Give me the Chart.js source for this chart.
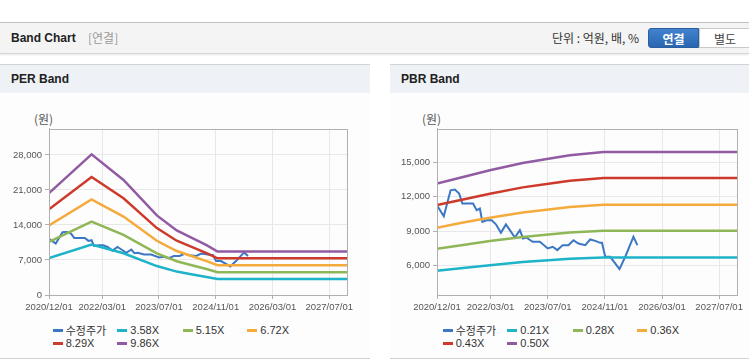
<!DOCTYPE html>
<html>
<head>
<meta charset="utf-8">
<script src="https://cdn.jsdelivr.net/npm/chart.js@4.4.1/dist/chart.umd.min.js"></script>
<style>
  body { margin: 0; width: 749px; height: 364px; position: relative; overflow: hidden; background: #fff;
         font-family: "Liberation Sans", Arial, "Noto Sans CJK KR", sans-serif; color: #333; }
  .topbar { position: absolute; left: 0; top: 22px; width: 749px; height: 30px; background: #f4f4f4;
            border-top: 1px solid #c2c2c2; border-bottom: 1px solid #d6d6d6; box-shadow: 0 1px 2px rgba(0,0,0,0.1); }
  .topbar .title { position: absolute; left: 11px; top: 0; line-height: 30px; font-size: 12px; font-weight: bold; color: #222; }
  .topbar .sub { position: absolute; left: 88px; top: 0; line-height: 30px; font-size: 12px; color: #999; font-family: "Noto Sans CJK KR", sans-serif; }
  .topbar .unit { position: absolute; left: 552px; top: 0; line-height: 30px; font-size: 12px; color: #333; font-family: "Noto Sans CJK KR", sans-serif; }
  .btn { position: absolute; top: 5px; height: 20px; line-height: 20px; text-align: center; font-size: 12px;
         font-family: "Noto Sans CJK KR", sans-serif; box-sizing: border-box; }
  .btn.on { left: 648px; width: 51px; background: linear-gradient(#4182cf, #2a66b0); color: #fff; font-weight: bold;
            border: 1px solid #2a5f9f; border-radius: 3px 0 0 3px; }
  .btn.off { left: 699px; width: 52px; background: #fff; color: #444; border: 1px solid #c8c8c8; }
  .panel { position: absolute; top: 64px; height: 293px; background: #fdfdfd;
           border-top: 1px solid #d2d2d2; border-bottom: 1px solid #d2d2d2; }
  .panel .head { height: 28px; line-height: 28px; background: #eef1f6; padding-left: 11px;
                 font-size: 12px; font-weight: bold; color: #222; }
  .unitlabel { position: absolute; top: 110px; font-size: 12px; color: #555; font-family: "Noto Sans CJK KR", sans-serif; }
  canvas { position: absolute; top: 120px; }
  .legend { position: absolute; font-size: 11px; color: #333; }
  .legend .item { position: absolute; height: 13px; line-height: 13px; white-space: nowrap; }
  .legend .mark { position: absolute; left: 0; top: 5px; width: 10px; height: 3px; }
  .legend .txt { position: absolute; left: 13px; top: 0; }
  .legend .ko { font-family: "Noto Sans CJK KR", sans-serif; }
</style>
</head>
<body>
<div class="topbar">
  <div class="title">Band Chart</div>
  <div class="sub">[연결]</div>
  <div class="unit">단위 : 억원, 배, %</div>
  <div class="btn on">연결</div>
  <div class="btn off">별도</div>
</div>
<div class="panel" style="left:0;width:370px;"><div class="head">PER Band</div></div>
<div class="panel" style="left:390px;width:359px;"><div class="head">PBR Band</div></div>
<div class="unitlabel" style="left:34px;">(원)</div>
<div class="unitlabel" style="left:422px;">(원)</div>
<canvas id="perChart" width="370" height="200" style="left:0;"></canvas>
<canvas id="pbrChart" width="359" height="200" style="left:390px;"></canvas>
<div class="legend" id="perLegend" style="left:0;top:324px;"></div>
<div class="legend" id="pbrLegend" style="left:390px;top:324px;"></div>
<script>
// ===== DATA (x = months since 2020/12/01) =====
const xTickMonths = [0, 15, 31, 47, 63, 79];
const xTickLabels = ["2020/12/01", "2022/03/01", "2023/07/01", "2024/11/01", "2026/03/01", "2027/07/01"];

// adjusted share price (수정주가)
const priceMonths = [0, 1.9, 3.8, 5, 6.2, 7.1, 10.1, 11.1, 12, 12.7, 13.9, 15.3, 16.5, 17.9, 19.3, 20.4, 21.8, 23.2,
  24.1, 25, 26.8, 28.8, 31, 32.4, 33.7, 35.2, 36.8, 38.2, 39.6, 41.5, 42.9, 44.3, 45.7, 46.2, 47.1, 48.5, 51.1, 52.7, 55, 56.1];
const priceValues = [11250, 10300, 12550, 12610, 12260, 11400, 11400, 10820, 10960, 9810, 9950, 9950, 9600, 8860, 9590, 9090, 8450, 9090,
  8370, 8450, 8080, 8080, 7500, 7650, 7360, 7790, 7790, 8220, 7930, 7790, 8280, 8160, 7990, 7990, 6780, 6780, 5710, 6780, 8510, 7790];

// PER band
const perLabels = ["3.58X", "5.15X", "6.72X", "8.29X", "9.86X"];
const perMonths = [0, 12, 21, 30.4, 36, 39.7, 44.4, 47.5, 84];
const per358 = [7400, 10100, 8350, 5780, 4680, 4210, 3610, 3180, 3180];
const per515 = [10640, 14650, 12010, 8310, 6740, 6060, 5200, 4560, 4560];
const per672 = [13880, 19120, 15680, 10840, 8790, 7900, 6780, 5950, 5950];
const per829 = [17120, 23580, 19340, 13370, 10840, 9750, 8370, 7320, 7320];
const per986 = [20370, 28100, 23000, 15900, 12900, 11600, 9950, 8680, 8680];
const perYTicks = [0, 7000, 14000, 21000, 28000];

// PBR band
const pbrLabels = ["0.21X", "0.28X", "0.36X", "0.43X", "0.50X"];
const pbrMonths = [0, 7.3, 14.8, 24, 31.2, 37.2, 46.6, 84];
const pbr021 = [5570, 5810, 6050, 6320, 6480, 6610, 6720, 6720];
const pbr028 = [7480, 7810, 8140, 8500, 8720, 8880, 9040, 9040];
const pbr036 = [9300, 9750, 10170, 10620, 10890, 11090, 11300, 11300];
const pbr043 = [11260, 11750, 12250, 12800, 13120, 13370, 13620, 13620];
const pbr050 = [13130, 13700, 14280, 14915, 15290, 15580, 15870, 15870];
const pbrYTicks = [6000, 9000, 12000, 15000];

const priceLabel = "수정주가";
const colors = ["#3b77c3", "#1db3c8", "#8fb657", "#f5aa3c", "#cd3a2c", "#915ba3"];

// ===== HELPERS =====
const toPoints = (xs, ys) => xs.map((x, i) => ({ x: x, y: ys[i] }));
const tickFont = { family: "Liberation Sans", size: 9.5 };

const framePlugin = {
  id: "frame",
  afterDraw(chart) {
    const { ctx, chartArea: a } = chart;
    ctx.save();
    ctx.strokeStyle = "#b0b0b0";
    ctx.lineWidth = 1;
    ctx.strokeRect(Math.round(a.left) + 0.5, Math.round(a.top) + 0.5, Math.round(a.right - a.left), Math.round(a.bottom - a.top));
    ctx.restore();
  },
};

function makeChart(id, bandMonths, bands, labels, yTicks, yMin, yMax, yWidth, padRight) {
  const datasets = [
    {
      label: priceLabel,
      data: toPoints(priceMonths, priceValues),
      borderColor: colors[0],
      borderWidth: 2,
      order: 1,
    },
  ];
  bands.forEach((b, i) => {
    datasets.push({
      label: labels[i],
      data: toPoints(bandMonths, b),
      borderColor: colors[i + 1],
      borderWidth: 2.5,
      order: 0,
    });
  });

  return new Chart(document.getElementById(id), {
    type: "line",
    data: { datasets: datasets },
    options: {
      responsive: false,
      animation: false,
      events: [],
      elements: { point: { radius: 0 }, line: { tension: 0, fill: false } },
      layout: { padding: { top: 8, right: padRight, left: 0, bottom: 0 } },
      plugins: { legend: { display: false }, tooltip: { enabled: false } },
      scales: {
        x: {
          type: "linear",
          min: 0,
          max: 84,
          afterBuildTicks: (s) => { s.ticks = xTickMonths.map((v) => ({ value: v })); },
          afterFit: (s) => { s.height = 25; },
          grid: { color: "#e8e8e8", tickColor: "#b0b0b0", tickLength: 4 },
          border: { color: "#b0b0b0" },
          ticks: {
            autoSkip: false,
            maxRotation: 0,
            padding: 3,
            color: "#555",
            font: tickFont,
            callback: (v, i) => xTickLabels[i],
          },
        },
        y: {
          min: yMin,
          max: yMax,
          afterBuildTicks: (s) => { s.ticks = yTicks.map((v) => ({ value: v })); },
          afterFit: (s) => { s.width = yWidth; },
          grid: { color: "#e8e8e8", tickColor: "#b0b0b0", tickLength: 4 },
          border: { color: "#b0b0b0" },
          ticks: {
            padding: 3,
            color: "#555",
            font: tickFont,
            callback: (v) => v.toLocaleString("en-US"),
          },
        },
      },
    },
    plugins: [framePlugin],
  });
}

function buildLegend(id, labels) {
  const el = document.getElementById(id);
  const names = [priceLabel].concat(labels);
  const cols = [52.7, 117.3, 182.7, 247.3];
  names.forEach((name, i) => {
    const item = document.createElement("div");
    item.className = "item";
    item.style.left = cols[i % 4] + "px";
    item.style.top = Math.floor(i / 4) * 13 + "px";
    item.innerHTML = '<span class="mark" style="background:' + colors[i] + '"></span>' +
      '<span class="txt' + (i === 0 ? " ko" : "") + '">' + name + "</span>";
    el.appendChild(item);
  });
}

makeChart("perChart", perMonths, [per358, per515, per672, per829, per986], perLabels, perYTicks, 0, 33235, 49, 23);
makeChart("pbrChart", pbrMonths, [pbr021, pbr028, pbr036, pbr043, pbr050], pbrLabels, pbrYTicks, 3465, 17890, 47, 12);
buildLegend("perLegend", perLabels);
buildLegend("pbrLegend", pbrLabels);
</script>
</body>
</html>
